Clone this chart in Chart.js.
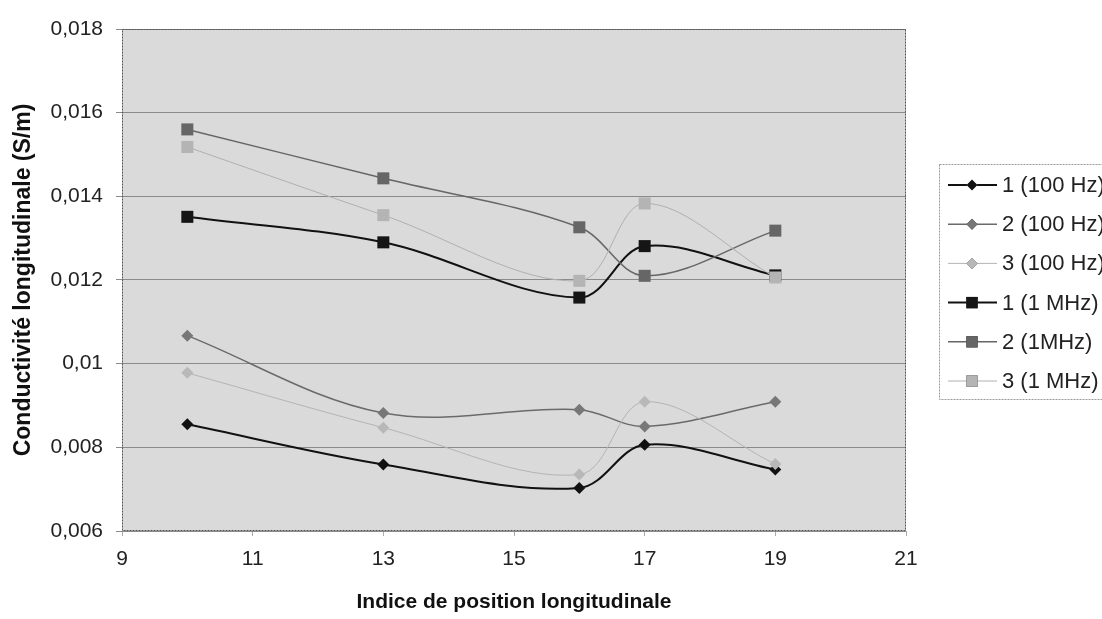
<!DOCTYPE html>
<html>
<head>
<meta charset="utf-8">
<script src="https://cdn.jsdelivr.net/npm/chart.js@4"></script>
<style>
  html, body { margin: 0; padding: 0; background: #fff; }
  #wrap { width: 1102px; height: 619px; }
</style>
</head>
<body>
<div id="wrap"><canvas id="chart" width="1102" height="619"></canvas></div>
<script>
// positions along the sample (x) and conductivity values (S/m)
const positions = [10, 13, 16, 17, 19];
const labels = ['1 (100 Hz)', '2 (100 Hz)', '3 (100 Hz)', '1 (1 MHz)', '2 (1MHz)', '3 (1 MHz)'];
const s1_100Hz = [0.00855, 0.00759, 0.00703, 0.00806, 0.00747];
const s2_100Hz = [0.01067, 0.00882, 0.00890, 0.00850, 0.00909];
const s3_100Hz = [0.00978, 0.00847, 0.00735, 0.00909, 0.00760];
const s1_1MHz = [0.01351, 0.01290, 0.01158, 0.01281, 0.01211];
const s2_1MHz = [0.01560, 0.01443, 0.01326, 0.01210, 0.01318];
const s3_1MHz = [0.01518, 0.01355, 0.01198, 0.01383, 0.01206];
const xTicks = [9, 11, 13, 15, 17, 19, 21];
const yTicks = [0.006, 0.008, 0.010, 0.012, 0.014, 0.016, 0.018];

const FONT = "'Liberation Sans', Arial, sans-serif";

const series = [s1_100Hz, s2_100Hz, s3_100Hz, s1_1MHz, s2_1MHz, s3_1MHz];
const styles = [
  { line: '#111', fill: '#111', width: 2, shape: 'rectRot', r: 6 },
  { line: '#6a6a6a', fill: '#777', width: 1.5, shape: 'rectRot', r: 6 },
  { line: '#b4b4b4', fill: '#b8b8b8', width: 1, shape: 'rectRot', r: 6 },
  { line: '#111', fill: '#151515', width: 2, shape: 'rect', r: 8.5 },
  { line: '#666', fill: '#666', width: 1.5, shape: 'rect', r: 8.5 },
  { line: '#b0b0b0', fill: '#b4b4b4', width: 1, shape: 'rect', r: 8.5 }
];

const datasets = series.map((vals, i) => ({
  label: labels[i],
  data: vals.map((v, j) => ({ x: positions[j], y: v })),
  borderColor: styles[i].line,
  borderWidth: styles[i].width,
  backgroundColor: styles[i].fill,
  pointBackgroundColor: styles[i].fill,
  pointBorderColor: styles[i].fill,
  pointBorderWidth: 0,
  pointStyle: styles[i].shape,
  pointRadius: styles[i].r,
  tension: 0.35,
  order: -i
}));

// grey plot area + dotted frame
const plotBg = {
  id: 'plotBg',
  beforeDraw(chart) {
    const { ctx, chartArea: a } = chart;
    ctx.save();
    ctx.fillStyle = '#dadada';
    ctx.fillRect(a.left, a.top, a.right - a.left, a.bottom - a.top);
    ctx.restore();
  },
  afterDatasetsDraw(chart) {
    const { ctx, chartArea: a } = chart;
    ctx.save();
    ctx.strokeStyle = '#555';
    ctx.lineWidth = 1;
    ctx.setLineDash([2, 1]);
    ctx.strokeRect(a.left + 0.5, a.top + 0.5, a.right - a.left - 1, a.bottom - a.top - 1);
    ctx.restore();
  }
};

// Excel-like legend box on the right, partly cut by the canvas edge
const sideLegend = {
  id: 'sideLegend',
  afterDraw(chart) {
    const { ctx } = chart;
    const box = { x: 939, y: 164, w: 180, h: 235 };
    ctx.save();
    ctx.fillStyle = '#fff';
    ctx.fillRect(box.x, box.y, box.w, box.h);
    ctx.strokeStyle = '#999';
    ctx.lineWidth = 1;
    ctx.setLineDash([2, 1]);
    ctx.strokeRect(box.x + 0.5, box.y + 0.5, box.w, box.h);
    ctx.setLineDash([]);
    chart.data.datasets.forEach((ds, i) => {
      const y = 185 + i * 39.2;
      ctx.strokeStyle = ds.borderColor;
      ctx.lineWidth = ds.borderWidth;
      ctx.beginPath();
      ctx.moveTo(948, y);
      ctx.lineTo(997, y);
      ctx.stroke();
      Chart.helpers.drawPoint(ctx, {
        pointStyle: ds.pointStyle,
        radius: ds.pointStyle === 'rect' ? 8 : 5.5,
        borderWidth: 0,
        rotation: 0
      }, 972, y);
      ctx.fillStyle = ds.pointBackgroundColor;
      ctx.fill();
      ctx.fillStyle = '#222';
      ctx.font = '22px ' + FONT;
      ctx.textBaseline = 'middle';
      ctx.textAlign = 'left';
      ctx.fillText(ds.label, 1002, y + 1);
    });
    ctx.restore();
  }
};

new Chart(document.getElementById('chart'), {
  type: 'line',
  data: { datasets },
  plugins: [plotBg, sideLegend],
  options: {
    responsive: false,
    animation: false,
    layout: { padding: { left: 0, right: 196, top: 29, bottom: 0 } },
    plugins: { legend: { display: false }, tooltip: { enabled: false } },
    scales: {
      x: {
        type: 'linear',
        min: 9,
        max: 21,
        afterBuildTicks(scale) { scale.ticks = xTicks.map(v => ({ value: v })); },
        afterFit(scale) { scale.height = 88; },
        grid: { drawOnChartArea: false, color: '#aaa', tickLength: 5 },
        border: { display: false },
        ticks: { color: '#222', font: { family: FONT, size: 21 }, padding: 11, maxRotation: 0 },
        title: {
          display: true,
          text: 'Indice de position longitudinale',
          color: '#111',
          font: { family: FONT, size: 21, weight: 'bold' },
          padding: { top: 0, bottom: 4 }
        }
      },
      y: {
        min: 0.006,
        max: 0.018,
        afterBuildTicks(scale) { scale.ticks = yTicks.map(v => ({ value: v })); },
        afterFit(scale) { scale.width = 122; },
        grid: { color: '#8a8a8a', lineWidth: 1, tickLength: 6 },
        border: { display: false },
        ticks: {
          color: '#222',
          font: { family: FONT, size: 21 },
          padding: 13,
          callback: v => Number(v.toFixed(3)).toString().replace('.', ',')
        },
        title: {
          display: true,
          text: 'Conductivité longitudinale (S/m)',
          color: '#111',
          font: { family: FONT, size: 23, weight: 'bold' },
          padding: { top: 10, bottom: 0 }
        }
      }
    }
  }
});
</script>
</body>
</html>
